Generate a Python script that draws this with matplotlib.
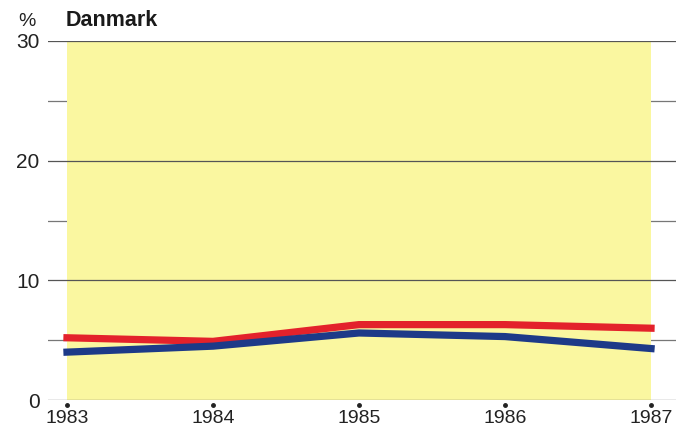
import numpy as np
import matplotlib
matplotlib.use("Agg")
import matplotlib.pyplot as plt

plt.rcParams['font.family'] = ['Liberation Sans', 'DejaVu Sans']

# data
years = [1983, 1984, 1985, 1986, 1987]
red_series = [5.2, 4.9, 6.3, 6.3, 6.0]
blue_series = [4.0, 4.5, 5.6, 5.3, 4.3]
major_ticks = [0, 10, 20, 30]
minor_ticks = [5, 15, 25]
title = "Danmark"

fig = plt.figure(figsize=(6.89, 4.32), dpi=100)
ax = fig.add_axes([48 / 689, 32 / 432, 628 / 689, 359 / 432])

ax.set_xlim(years[0] - 0.13, years[-1] + 0.171)
ax.set_ylim(0, 30)

# minor ticks show only outside the yellow area
for y in minor_ticks:
    ax.axhline(y, color='#777777', lw=0.9, zorder=0)
ax.axvspan(years[0], years[-1], color='#faf7a0', lw=0, zorder=1)
for y in major_ticks:
    ax.axhline(y, color='#555555', lw=0.9, zorder=2)

ax.plot(years, red_series, color='#e3222b', lw=5.2, solid_joinstyle='round', zorder=3)
ax.plot(years, blue_series, color='#1d3a88', lw=5.2, solid_joinstyle='round', zorder=4)

# little dots above the year labels
ax.plot(years, np.full(len(years), -0.45), 'o', color='#222222', ms=2.5, clip_on=False)

for s in ax.spines.values():
    s.set_visible(False)
ax.set_yticks(major_ticks)
ax.set_yticklabels([str(t) for t in major_ticks])
ax.set_xticks(years)
ax.set_xticklabels([str(y) for y in years])
ax.tick_params(axis='y', length=0, pad=6, labelsize=15, labelcolor='#222222')
ax.tick_params(axis='x', length=0, pad=7, labelsize=14, labelcolor='#222222')

fig.text(27 / 689, 1 - 21 / 432, '%', fontsize=14, color='#222222', ha='center', va='center')
fig.text(66 / 689, 1 - 20 / 432, title, fontsize=15.5, fontweight='bold', color='#1a1a1a',
         ha='left', va='center')

fig.savefig('out.png', dpi=100)
